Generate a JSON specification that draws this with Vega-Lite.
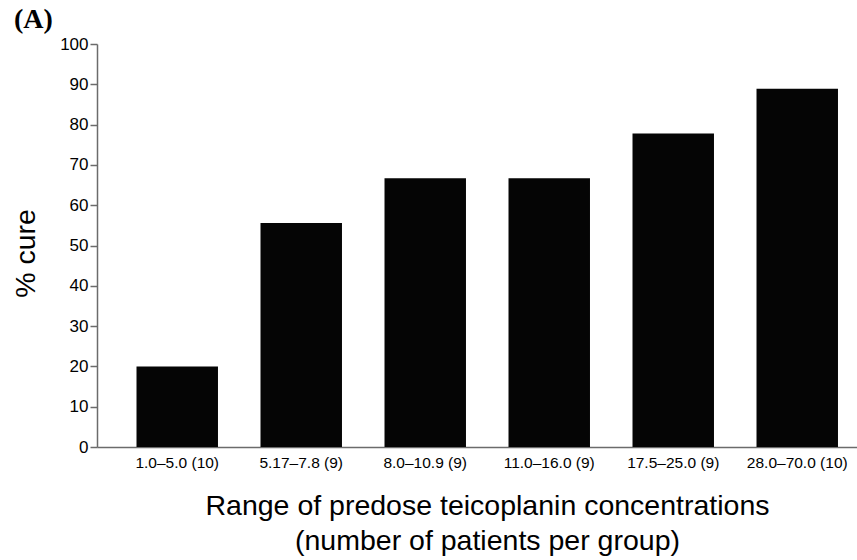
{
  "$schema": "https://vega.github.io/schema/vega-lite/v6.json",
  "width": 760,
  "height": 403,
  "autosize": {"type": "none"},
  "padding": {"left": 97, "top": 44, "right": 0, "bottom": 113},
  "background": "white",
  "title": {
    "text": "(A)",
    "anchor": "start",
    "frame": "group",
    "font": "Liberation Serif",
    "fontWeight": "bold",
    "fontSize": 28,
    "color": "#000000",
    "baseline": "alphabetic",
    "offset": 0,
    "dx": -83,
    "dy": 21
  },
  "data": {
    "values": [
      {"range": "1.0–5.0 (10)", "cure": 20},
      {"range": "5.17–7.8 (9)", "cure": 55.6},
      {"range": "8.0–10.9 (9)", "cure": 66.7},
      {"range": "11.0–16.0 (9)", "cure": 66.7},
      {"range": "17.5–25.0 (9)", "cure": 77.8},
      {"range": "28.0–70.0 (10)", "cure": 88.9}
    ]
  },
  "mark": {"type": "bar", "color": "#050505"},
  "encoding": {
    "x": {
      "field": "range",
      "type": "nominal",
      "sort": null,
      "scale": {"paddingInner": 0.343, "paddingOuter": 0.236, "align": 0.675},
      "axis": {
        "title": ["Range of predose teicoplanin concentrations", "(number of patients per group)"],
        "titleFont": "Liberation Sans",
        "titleFontSize": 28.5,
        "titleFontWeight": "normal",
        "titleColor": "#000000",
        "titleLineHeight": 35,
        "titleAlign": "center",
        "titleBaseline": "alphabetic",
        "titleX": 390,
        "titleY": 67,
        "labelAngle": 0,
        "labelFont": "Liberation Sans",
        "labelFontSize": 15.5,
        "labelColor": "#000000",
        "labelPadding": 8,
        "ticks": false,
        "domainColor": "#6b6b6b",
        "domainWidth": 1.5
      }
    },
    "y": {
      "field": "cure",
      "type": "quantitative",
      "scale": {"domain": [0, 100], "nice": false},
      "axis": {
        "title": "% cure",
        "titleFont": "Liberation Sans",
        "titleFontSize": 28.5,
        "titleFontWeight": "normal",
        "titleColor": "#000000",
        "titleAngle": 270,
        "titleAlign": "center",
        "titleBaseline": "middle",
        "titleX": -72,
        "titleY": 209,
        "values": [0, 10, 20, 30, 40, 50, 60, 70, 80, 90, 100],
        "grid": false,
        "labelFont": "Liberation Sans",
        "labelFontSize": 17,
        "labelColor": "#000000",
        "labelPadding": 2,
        "tickSize": 7,
        "tickColor": "#6b6b6b",
        "tickWidth": 1.5,
        "domainColor": "#6b6b6b",
        "domainWidth": 1.5
      }
    }
  },
  "config": {"view": {"stroke": null}}
}
